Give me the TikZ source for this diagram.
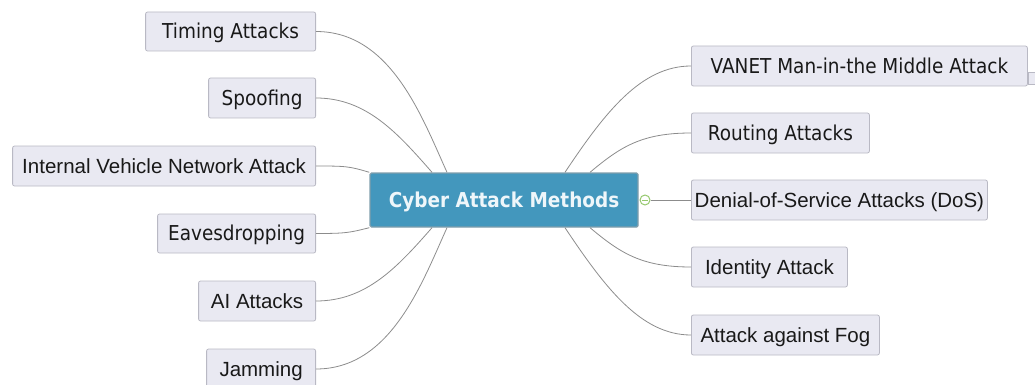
\documentclass[tikz,border=0pt]{standalone}
\usepackage{fontspec}
\setmainfont{Liberation Sans}
\newfontfamily\narrowsans[FakeStretch=0.9]{DejaVu Sans}
\usetikzlibrary{calc}

\definecolor{leaffill}{RGB}{233,233,242}
\definecolor{leafborder}{RGB}{185,185,196}
\definecolor{hubfill}{RGB}{67,151,189}
\definecolor{hubborder}{RGB}{128,158,172}
\definecolor{linkgray}{RGB}{140,140,140}
\definecolor{foldgreen}{RGB}{150,200,110}
\definecolor{leaftext}{RGB}{25,25,25}

\tikzset{
  leaf/.style={draw=leafborder, fill=leaffill, rounded corners=2pt, line width=0.8pt,
    minimum height=40pt, inner sep=0pt, text=leaftext,
    text height=15pt, text depth=0.3pt,
    font=\fontsize{20.5}{24}\selectfont},
  leafn/.style={leaf, font=\narrowsans\fontsize{20.5}{24}\selectfont},
  hub/.style={draw=hubborder, fill=hubfill, rounded corners=1.5pt, line width=1.4pt,
    minimum width=268pt, minimum height=54pt, inner sep=0pt,
    text height=15.5pt, text depth=0pt,
    text={rgb,255:red,238;green,246;blue,250},
    font=\narrowsans\bfseries\fontsize{20.5}{24}\selectfont},
  link/.style={draw=linkgray, line width=0.8pt},
  fold/.style={circle, draw=foldgreen, fill=white, line width=1pt,
    minimum size=10pt, inner sep=0pt}
}

\begin{document}
\begin{tikzpicture}[x=1pt, y=-1pt]
  \useasboundingbox (0,0) rectangle (1035,385);

  % central topic
  \node[hub] (hub) at (504,200) {Cyber Attack Methods};

  % left branches
  \node[leafn, anchor=east, minimum width=170pt, minimum height=39pt] (timing) at (316,31.5) {Timing Attacks};
  \node[leafn, anchor=east, minimum width=107pt] (spoof) at (316,98) {Spoofing};
  \node[leaf, anchor=east, minimum width=303pt] (internal) at (316,166) {Internal Vehicle Network Attack};
  \node[leafn, anchor=east, minimum width=158pt, minimum height=39pt] (eaves) at (316,233.5) {Eavesdropping};
  \node[leaf, anchor=east, minimum width=117pt] (ai) at (316,301) {AI Attacks};
  \node[leaf, anchor=east, minimum width=109pt] (jam) at (316,369) {Jamming};

  % right branches
  \node[leafn, anchor=west, minimum width=336pt] (vanet) at (691,66) {VANET Man-in-the Middle Attack};
  \node[leafn, anchor=west, minimum width=178pt] (routing) at (691,133) {Routing Attacks};
  \node[leaf, anchor=west, minimum width=296pt] (dos) at (691,200) {Denial-of-Service Attacks (DoS)};
  \node[leaf, anchor=west, minimum width=156pt] (ident) at (691,267) {Identity Attack};
  \node[leaf, anchor=west, minimum width=188pt] (fog) at (691,335) {Attack against Fog};

  % small marker beside the top right topic
  \node[draw=leafborder, fill=leaffill, line width=0.6pt, minimum width=10pt,
        minimum height=12pt, inner sep=0pt, anchor=west] (marker) at (1028,78.5) {};

  % attachment points on the central topic
  \coordinate (nA) at ($(hub.north)+(-57,0)$);
  \coordinate (nB) at ($(hub.north)+(-72,0)$);
  \coordinate (nC) at ($(hub.north)+(61,0)$);
  \coordinate (nD) at ($(hub.north)+(86,0)$);
  \coordinate (sA) at ($(hub.south)+(-57,0)$);
  \coordinate (sB) at ($(hub.south)+(-72,0)$);
  \coordinate (sC) at ($(hub.south)+(61,0)$);
  \coordinate (sD) at ($(hub.south)+(86,0)$);

  % left connectors
  \draw[link] (timing.east) .. controls +(75,0) and +(-25,-55) .. (nA);
  \draw[link] (spoof.east) .. controls +(50,0) and +(-35,-40) .. (nB);
  \draw[link] (internal.east) .. controls +(30,0) and +(-20,-6) .. (hub.north west);
  \draw[link] (eaves.east) .. controls +(30,0) and +(-20,5) .. (hub.south west);
  \draw[link] (ai.east) .. controls +(50,0) and +(-35,40) .. (sB);
  \draw[link] (jam.east) .. controls +(75,0) and +(-25,55) .. (sA);

  % right connectors
  \draw[link] (nC) .. controls +(40,-60) and +(-50,0) .. (vanet.west);
  \draw[link] (nD) .. controls +(30,-25) and +(-50,0) .. (routing.west);
  \draw[link] (sD) .. controls +(30,25) and +(-50,0) .. (ident.west);
  \draw[link] (sC) .. controls +(40,60) and +(-50,0) .. (fog.west);

  % collapse toggle and the straight branch
  \node[fold] (toggle) at (645,200) {};
  \draw[link] (toggle.east) -- (dos.west);
  \draw[draw=foldgreen, line width=0.9pt] ($(toggle.center)+(-2.8,0)$) -- ($(toggle.center)+(2.8,0)$);
\end{tikzpicture}
\end{document}
